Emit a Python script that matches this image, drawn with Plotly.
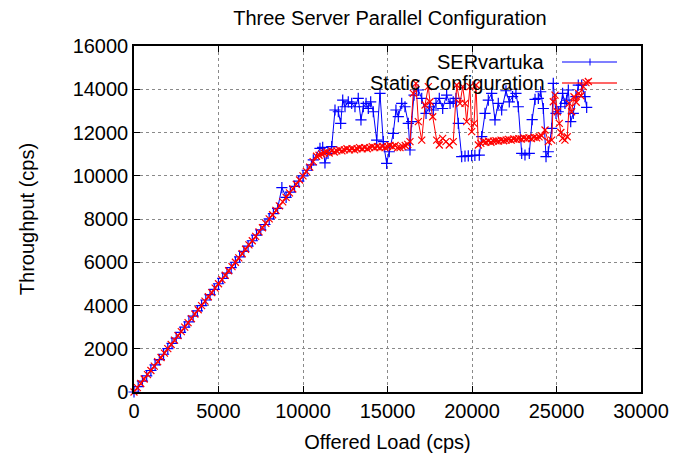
import plotly.graph_objects as go

# SERvartuka (blue, "+")
serv_x = [0, 250, 500, 750, 1000, 1250, 1500, 1750, 2000, 2250, 2500, 2750, 3000, 3250,
          3500, 3750, 4000, 4250, 4500, 4750, 5000, 5250, 5500, 5750, 6000, 6250, 6500,
          6750, 7000, 7250, 7500, 7750, 8000, 8250, 8500, 8750, 9000, 9250, 9500, 9750,
          10000, 10250, 10500, 10610, 11005, 11165, 11300, 11480, 11700, 11893, 12090,
          12230, 12350, 12485, 12680, 12880, 13075, 13270, 13430, 13570, 13730, 13865,
          14005, 14160, 14360, 14555, 14750, 14950, 15105, 15340, 15500, 15640, 15840,
          16035, 16230, 16330, 16430, 16570, 16825, 17025, 17280, 17475, 17710, 17870,
          18065, 18265, 18500, 18700, 18890, 19050, 19190, 19390, 19585, 19780, 19980,
          20170, 20430, 20575, 20770, 20965, 21165, 21360, 21555, 21755, 22010, 22205,
          22400, 22600, 22740, 22940, 23135, 23390, 23560, 23730, 23925, 24065, 24220,
          24380, 24515, 24715, 24810, 24970, 25105, 25245, 25360, 25500, 25600, 25700,
          25840, 25995, 26150, 26290, 26490, 26685, 26785]
serv_y = [0, 245, 505, 750, 995, 1255, 1500, 1745, 2005, 2250, 2495, 2755, 3000, 3245,
          3505, 3750, 3995, 4255, 4500, 4745, 5005, 5250, 5495, 5755, 6000, 6245, 6505,
          6750, 6995, 7255, 7500, 7745, 8005, 8250, 8495, 9450, 9000, 9245, 9505, 9750,
          9995, 10255, 10500, 10730, 11270, 11315, 10600, 11035, 11345, 13040, 12960,
          12425, 13500, 13190, 13420, 13345, 13190, 13580, 12580, 13190, 13345, 13110,
          13420, 12960, 11650, 13810, 11575, 10575, 11110, 11960, 13040, 12730, 13345,
          13190, 12420, 11190, 12500, 13730, 13965, 13580, 12880, 13190, 13040, 13345,
          13580, 13110, 13730, 13345, 13420, 13580, 12420, 10880, 10910, 10920, 10930,
          10940, 10950, 11805, 12880, 13500, 13810, 12580, 13345, 13040, 13930, 13420,
          13655, 13810, 13190, 11035, 10960, 11035, 12600, 13530, 13580, 13885, 13110,
          10880, 11110, 12190, 14270, 12880, 12960, 13190, 13810, 13345, 13500, 13965,
          12500, 12880, 13655, 14195, 14195, 13655, 13160]

# Static Configuration (red, "x")
static_x = [0, 200, 400, 600, 800, 1000, 1200, 1400, 1600, 1800, 2000, 2200, 2400, 2600,
            2800, 3000, 3200, 3400, 3600, 3800, 4000, 4200, 4400, 4600, 4800, 5000, 5200,
            5400, 5600, 5800, 6000, 6200, 6400, 6600, 6800, 7000, 7200, 7400, 7600, 7800,
            8000, 8200, 8400, 8600, 8800, 9000, 9200, 9400, 9600, 9800, 10000, 10200,
            10400, 10600, 10800, 10950, 11100, 11250, 11400, 11550, 11700, 11850, 12000,
            12150, 12300, 12450, 12600, 12750, 12900, 13050, 13200, 13350, 13500, 13650,
            13800, 13950, 14100, 14250, 14400, 14550, 14700, 14850, 15000, 15150, 15300,
            15450, 15600, 15740, 15900, 16050, 16200, 16330, 16525, 16685, 16825, 17025,
            17220, 17415, 17515, 17675, 17910, 18065, 18265, 18460, 18655, 18890, 19095,
            19290, 19450, 19585, 19685, 19880, 19980, 20120, 20235, 20375, 20520, 20670,
            20820, 20970, 21120, 21270, 21420, 21570, 21720, 21870, 22020, 22170, 22320,
            22470, 22620, 22770, 22920, 23070, 23220, 23370, 23520, 23670, 23820, 23970,
            24120, 24320, 24515, 24715, 24810, 24910, 25050, 25165, 25260, 25360, 25500,
            25635, 25755, 25895, 26035, 26170, 26310, 26450, 26585, 26745, 26885]
static_y = [0, 205, 395, 600, 805, 995, 1200, 1405, 1595, 1800, 2005, 2195, 2400, 2605,
            2795, 3000, 3205, 3395, 3600, 3805, 3995, 4200, 4405, 4595, 4800, 5005, 5195,
            5400, 5605, 5795, 6000, 6205, 6395, 6600, 6805, 6995, 7200, 7405, 7595, 7800,
            8005, 8195, 8400, 8605, 8795, 9000, 9205, 9395, 9600, 9805, 9995, 10200,
            10400, 10650, 10900, 10950, 11000, 11050, 11100, 11050, 11150, 11100, 11150,
            11200, 11150, 11200, 11250, 11200, 11250, 11200, 11250, 11300, 11250, 11300,
            11250, 11300, 11350, 11300, 11350, 11300, 11350, 11300, 11350, 11400, 11350,
            11400, 11300, 11300, 11350, 11400, 11450, 11575, 13810, 14270, 12500, 11650,
            13270, 14120, 13420, 12730, 11650, 11420, 11730, 11575, 11420, 11575, 14195,
            13345, 14120, 13345, 12500, 14120, 12040, 12420, 14195, 11420, 11500, 11575,
            11550, 11600, 11550, 11600, 11620, 11600, 11650, 11620, 11650, 11680, 11650,
            11700, 11680, 11720, 11700, 11750, 11720, 11750, 11720, 11780, 11750, 11800,
            11850, 12115, 11575, 11650, 13420, 13730, 12960, 12420, 12000, 11730, 11650,
            11805, 13345, 12960, 13655, 13400, 13810, 13700, 14120, 14310, 14360]

x_ticks = [0, 5000, 10000, 15000, 20000, 25000, 30000]
y_ticks = [0, 2000, 4000, 6000, 8000, 10000, 12000, 14000, 16000]

FONT = "Liberation Sans, Arial, Helvetica, sans-serif"
FS = 20

fig = go.Figure()
fig.add_trace(go.Scatter(
    x=serv_x, y=serv_y, name="SERvartuka", mode="lines+markers",
    line=dict(color="#0000ff", width=1),
    marker=dict(symbol="cross-thin-open", size=8, line=dict(color="#0000ff", width=1.2)),
    cliponaxis=False,
))
fig.add_trace(go.Scatter(
    x=static_x, y=static_y, name="Static Configuration", mode="lines+markers",
    line=dict(color="#ff0000", width=1),
    marker=dict(symbol="x-thin-open", size=7, line=dict(color="#ff0000", width=1.2)),
    cliponaxis=False,
))

axis_common = dict(
    showline=True, linecolor="black", linewidth=1.5, mirror="ticks",
    ticks="inside", ticklen=6, tickcolor="black",
    showgrid=True, gridcolor="#8a8a8a", griddash="dot", gridwidth=1,
    zeroline=False, automargin=False,
    tickfont=dict(size=FS, color="black", family=FONT),
)
fig.update_xaxes(range=[0, 30000], tickvals=x_ticks, ticktext=[str(v) for v in x_ticks],
                 title=dict(text="Offered Load (cps)", font=dict(size=FS, color="black", family=FONT),
                            standoff=14),
                 **axis_common)
fig.update_yaxes(range=[0, 16000], tickvals=y_ticks, ticktext=[str(v) for v in y_ticks],
                 title=dict(text="Throughput (cps)", font=dict(size=FS, color="black", family=FONT),
                            standoff=33),
                 **axis_common)

# gnuplot-style key: text right-justified, sample line to its right
key = [("SERvartuka", "#0000ff", 1.2, 62), ("Static Configuration", "rgba(255,0,0,0.6)", 2, 83)]
for label, colour, lw, ypx in key:
    yp = 1 - (ypx - 46) / 346
    fig.add_annotation(x=(547 - 134) / 507, y=yp, xref="paper", yref="paper", text=label,
                       showarrow=False, xanchor="right", yanchor="middle",
                       font=dict(size=FS, color="black", family=FONT))
    fig.add_shape(type="line", xref="paper", yref="paper",
                  x0=(562 - 134) / 507, x1=(617 - 134) / 507, y0=yp, y1=yp,
                  line=dict(color=colour, width=lw))
fig.add_shape(type="line", xref="paper", yref="paper",
              x0=(590 - 134) / 507, x1=(590 - 134) / 507,
              y0=1 - (58.5 - 46) / 346, y1=1 - (65.5 - 46) / 346,
              line=dict(color="#0000ff", width=1))

# page body has an 8px margin, so the plot area is shifted up/left by 8px
fig.update_layout(
    width=683, height=455,
    margin=dict(l=126, r=50, t=38, b=71),
    paper_bgcolor="white", plot_bgcolor="white",
    showlegend=False,
    title=dict(text="Three Server Parallel Configuration", x=(390 - 8) / 683, xanchor="center",
               y=1 - 10 / 455, yanchor="middle",
               font=dict(size=FS, color="black", family=FONT)),
    font=dict(family=FONT, color="black"),
)

fig.write_html("out.html")
